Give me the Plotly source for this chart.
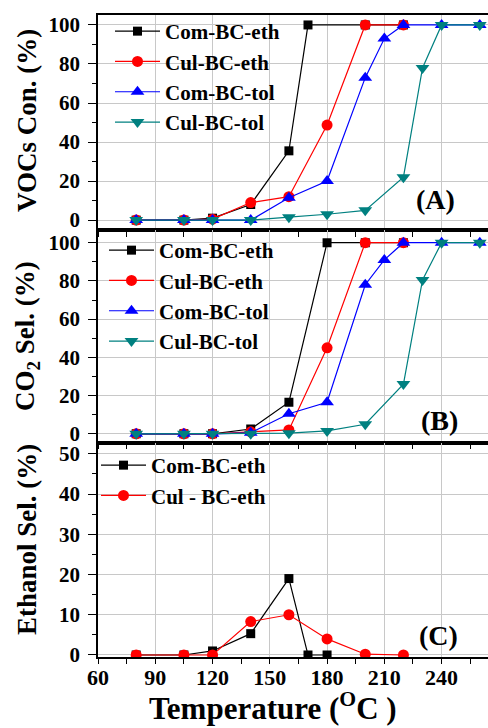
import plotly.graph_objects as go

# ---------------- data ----------------
# Panel A: VOCs conversion (%)
A_com_eth_T = [80, 105, 120, 140, 160, 170, 200, 220]
A_com_eth_V = [0, 0, 1, 8, 35.5, 100, 100, 100]
A_cul_eth_T = [80, 105, 120, 140, 160, 180, 200, 220]
A_cul_eth_V = [0, 0, 0.5, 9, 12, 48.7, 100, 100]
A_com_tol_T = [80, 105, 120, 140, 160, 180, 200, 210, 220, 240, 260]
A_com_tol_V = [0, 0, 0, 0, 11.5, 20, 73, 93, 100, 100, 100]
A_cul_tol_T = [80, 105, 120, 140, 160, 180, 200, 220, 230, 240, 260]
A_cul_tol_V = [0, 0, 0, 0, 1.5, 3, 5, 22, 78, 100, 100]

# Panel B: CO2 selectivity (%)
B_com_eth_T = [80, 105, 120, 140, 160, 180, 200, 220]
B_com_eth_V = [0, 0, 0, 2.5, 16.5, 100, 100, 100]
B_cul_eth_T = [80, 105, 120, 140, 160, 180, 200, 220]
B_cul_eth_V = [0, 0, 0, 1, 2, 45, 100, 100]
B_com_tol_T = [80, 105, 120, 140, 160, 180, 200, 210, 220, 240, 260]
B_com_tol_V = [0, 0, 0, 0.5, 10.5, 16.5, 78, 91, 100, 100, 100]
B_cul_tol_T = [80, 105, 120, 140, 160, 180, 200, 220, 230, 240, 260]
B_cul_tol_V = [0, 0, 0, 0, 0.3, 1.5, 5, 26, 80.5, 100, 100]

# Panel C: Ethanol selectivity (%)
C_com_eth_T = [80, 105, 120, 140, 160, 170, 180]
C_com_eth_V = [0, 0, 1, 5.3, 19, 0, 0]
C_cul_eth_T = [80, 105, 120, 140, 160, 180, 200, 220]
C_cul_eth_V = [0, 0, 0, 8.3, 10, 4, 0.2, 0]

names_AB = ["Com-BC-eth", "Cul-BC-eth", "Com-BC-tol", "Cul-BC-tol"]
names_C = ["Com-BC-eth", "Cul - BC-eth"]
x_ticks = [60, 90, 120, 150, 180, 210, 240]

# ---------------- styles ----------------
FONT = "'Liberation Serif', 'Times New Roman', Times, serif"
BLACK, RED, BLUE, TEAL = "#000000", "#ff0000", "#0000ff", "#008080"
styles = [
    dict(color=BLACK, symbol="square", size=9),
    dict(color=RED, symbol="circle", size=11),
    dict(color=BLUE, symbol="triangle-up", size=12),
    dict(color=TEAL, symbol="triangle-down", size=12),
]

fig = go.Figure()

def add(T, V, st, name, xa, ya, leg):
    fig.add_trace(go.Scatter(
        x=T, y=V, mode="lines+markers", name=name,
        line=dict(color=st["color"], width=1.2),
        marker=dict(color=st["color"], symbol=st["symbol"], size=st["size"]),
        xaxis=xa, yaxis=ya, legend=leg,
    ))

A = [(A_com_eth_T, A_com_eth_V), (A_cul_eth_T, A_cul_eth_V),
     (A_com_tol_T, A_com_tol_V), (A_cul_tol_T, A_cul_tol_V)]
B = [(B_com_eth_T, B_com_eth_V), (B_cul_eth_T, B_cul_eth_V),
     (B_com_tol_T, B_com_tol_V), (B_cul_tol_T, B_cul_tol_V)]
C = [(C_com_eth_T, C_com_eth_V), (C_cul_eth_T, C_cul_eth_V)]

for (T, V), st, nm in zip(A, styles, names_AB):
    add(T, V, st, nm, "x", "y", "legend")
for (T, V), st, nm in zip(B, styles, names_AB):
    add(T, V, st, nm, "x2", "y2", "legend2")
for (T, V), st, nm in zip(C, styles, names_C):
    add(T, V, st, nm, "x3", "y3", "legend3")

W, H = 488, 728
ML, MR, MT, MB = 98, 0, 15, 71
XR = [60, 264.3]
GRID = "#c8c8c8"

def xaxis(anchor, labels):
    return dict(
        range=XR, anchor=anchor, domain=[0, 1],
        tickvals=x_ticks, ticktext=[str(v) for v in x_ticks],
        showticklabels=labels,
        ticks="outside", ticklen=5, tickwidth=1.2, tickcolor="black",
        minor=dict(tickvals=[75, 105, 135, 165, 195, 225, 255], ticks="outside",
                   ticklen=5, tickwidth=1.2, tickcolor="black", showgrid=False),
        showline=True, linecolor="black", linewidth=1.8, mirror=True,
        showgrid=True, gridcolor=GRID, gridwidth=1.3, zeroline=False,
        tickfont=dict(family=FONT, size=22, color="black", weight="bold"),
    )

def yaxis(anchor, dom, rng, dtick, mtick, top):
    vals = list(range(0, top + 1, dtick))
    return dict(
        range=rng, anchor=anchor, domain=dom,
        tickvals=vals, ticktext=[str(v) for v in vals],
        ticks="outside", ticklen=8, tickwidth=1.2, tickcolor="black",
        ticklabelstandoff=4,
        minor=dict(dtick=mtick, tick0=0, ticks="outside", ticklen=4, tickwidth=1.2,
                   tickcolor="black", showgrid=False),
        showline=True, linecolor="black", linewidth=1.8, mirror=False,
        showgrid=True, gridcolor=GRID, gridwidth=1.3, zeroline=False,
        tickfont=dict(family=FONT, size=21, color="black", weight="bold"),
    )

def legend(xp, yp, size):
    return dict(
        x=(xp - ML) / (W - ML - MR), y=1 - (yp - MT) / (H - MT - MB),
        xanchor="left", yanchor="top", bgcolor="rgba(0,0,0,0)",
        borderwidth=0, tracegroupgap=0, itemwidth=45,
        font=dict(family=FONT, size=size, color="black", weight="bold"),
    )

xa3 = xaxis("y3", True)
xa3["ticklabelstandoff"] = -5

fig.update_layout(
    width=W, height=H,
    margin=dict(l=ML, r=MR, t=MT, b=MB),
    paper_bgcolor="white", plot_bgcolor="white",
    font=dict(family=FONT),
    xaxis=xaxis("y", False),
    xaxis2=xaxis("y2", False),
    xaxis3=xa3,
    yaxis=yaxis("x", [0.665, 1], [-5.1, 105.1], 20, 10, 100),
    yaxis2=yaxis("x2", [0.334, 0.665], [-4.6, 106.6], 20, 10, 100),
    yaxis3=yaxis("x3", [0, 0.334], [-0.5, 52.8], 10, 5, 50),
    legend=legend(110, 11, 21),
    legend2=legend(104, 230, 21),
    legend3=legend(96, 445, 21),
    showlegend=True,
)

def ann(text, xp, yp, size, angle=0):
    fig.add_annotation(
        text=text, xref="paper", yref="paper",
        x=(xp - ML) / (W - ML - MR), y=1 - (yp - MT) / (H - MT - MB),
        xanchor="center", yanchor="middle", showarrow=False, textangle=angle,
        font=dict(family=FONT, size=size, color="black", weight="bold"),
    )

ann("VOCs Con. (%)", 27, 121, 27, -90)
ann("CO<sub>2</sub> Sel. (%)", 27, 336, 27, -90)
ann("Ethanol Sel. (%)", 27, 540, 27, -90)
ann("Temperature (<sup>O</sup>C )", 273, 706, 31)
ann("(A)", 435, 200, 28)
ann("(B)", 439, 420, 28)
ann("(C)", 438, 635, 28)

fig.write_html("out.html")
